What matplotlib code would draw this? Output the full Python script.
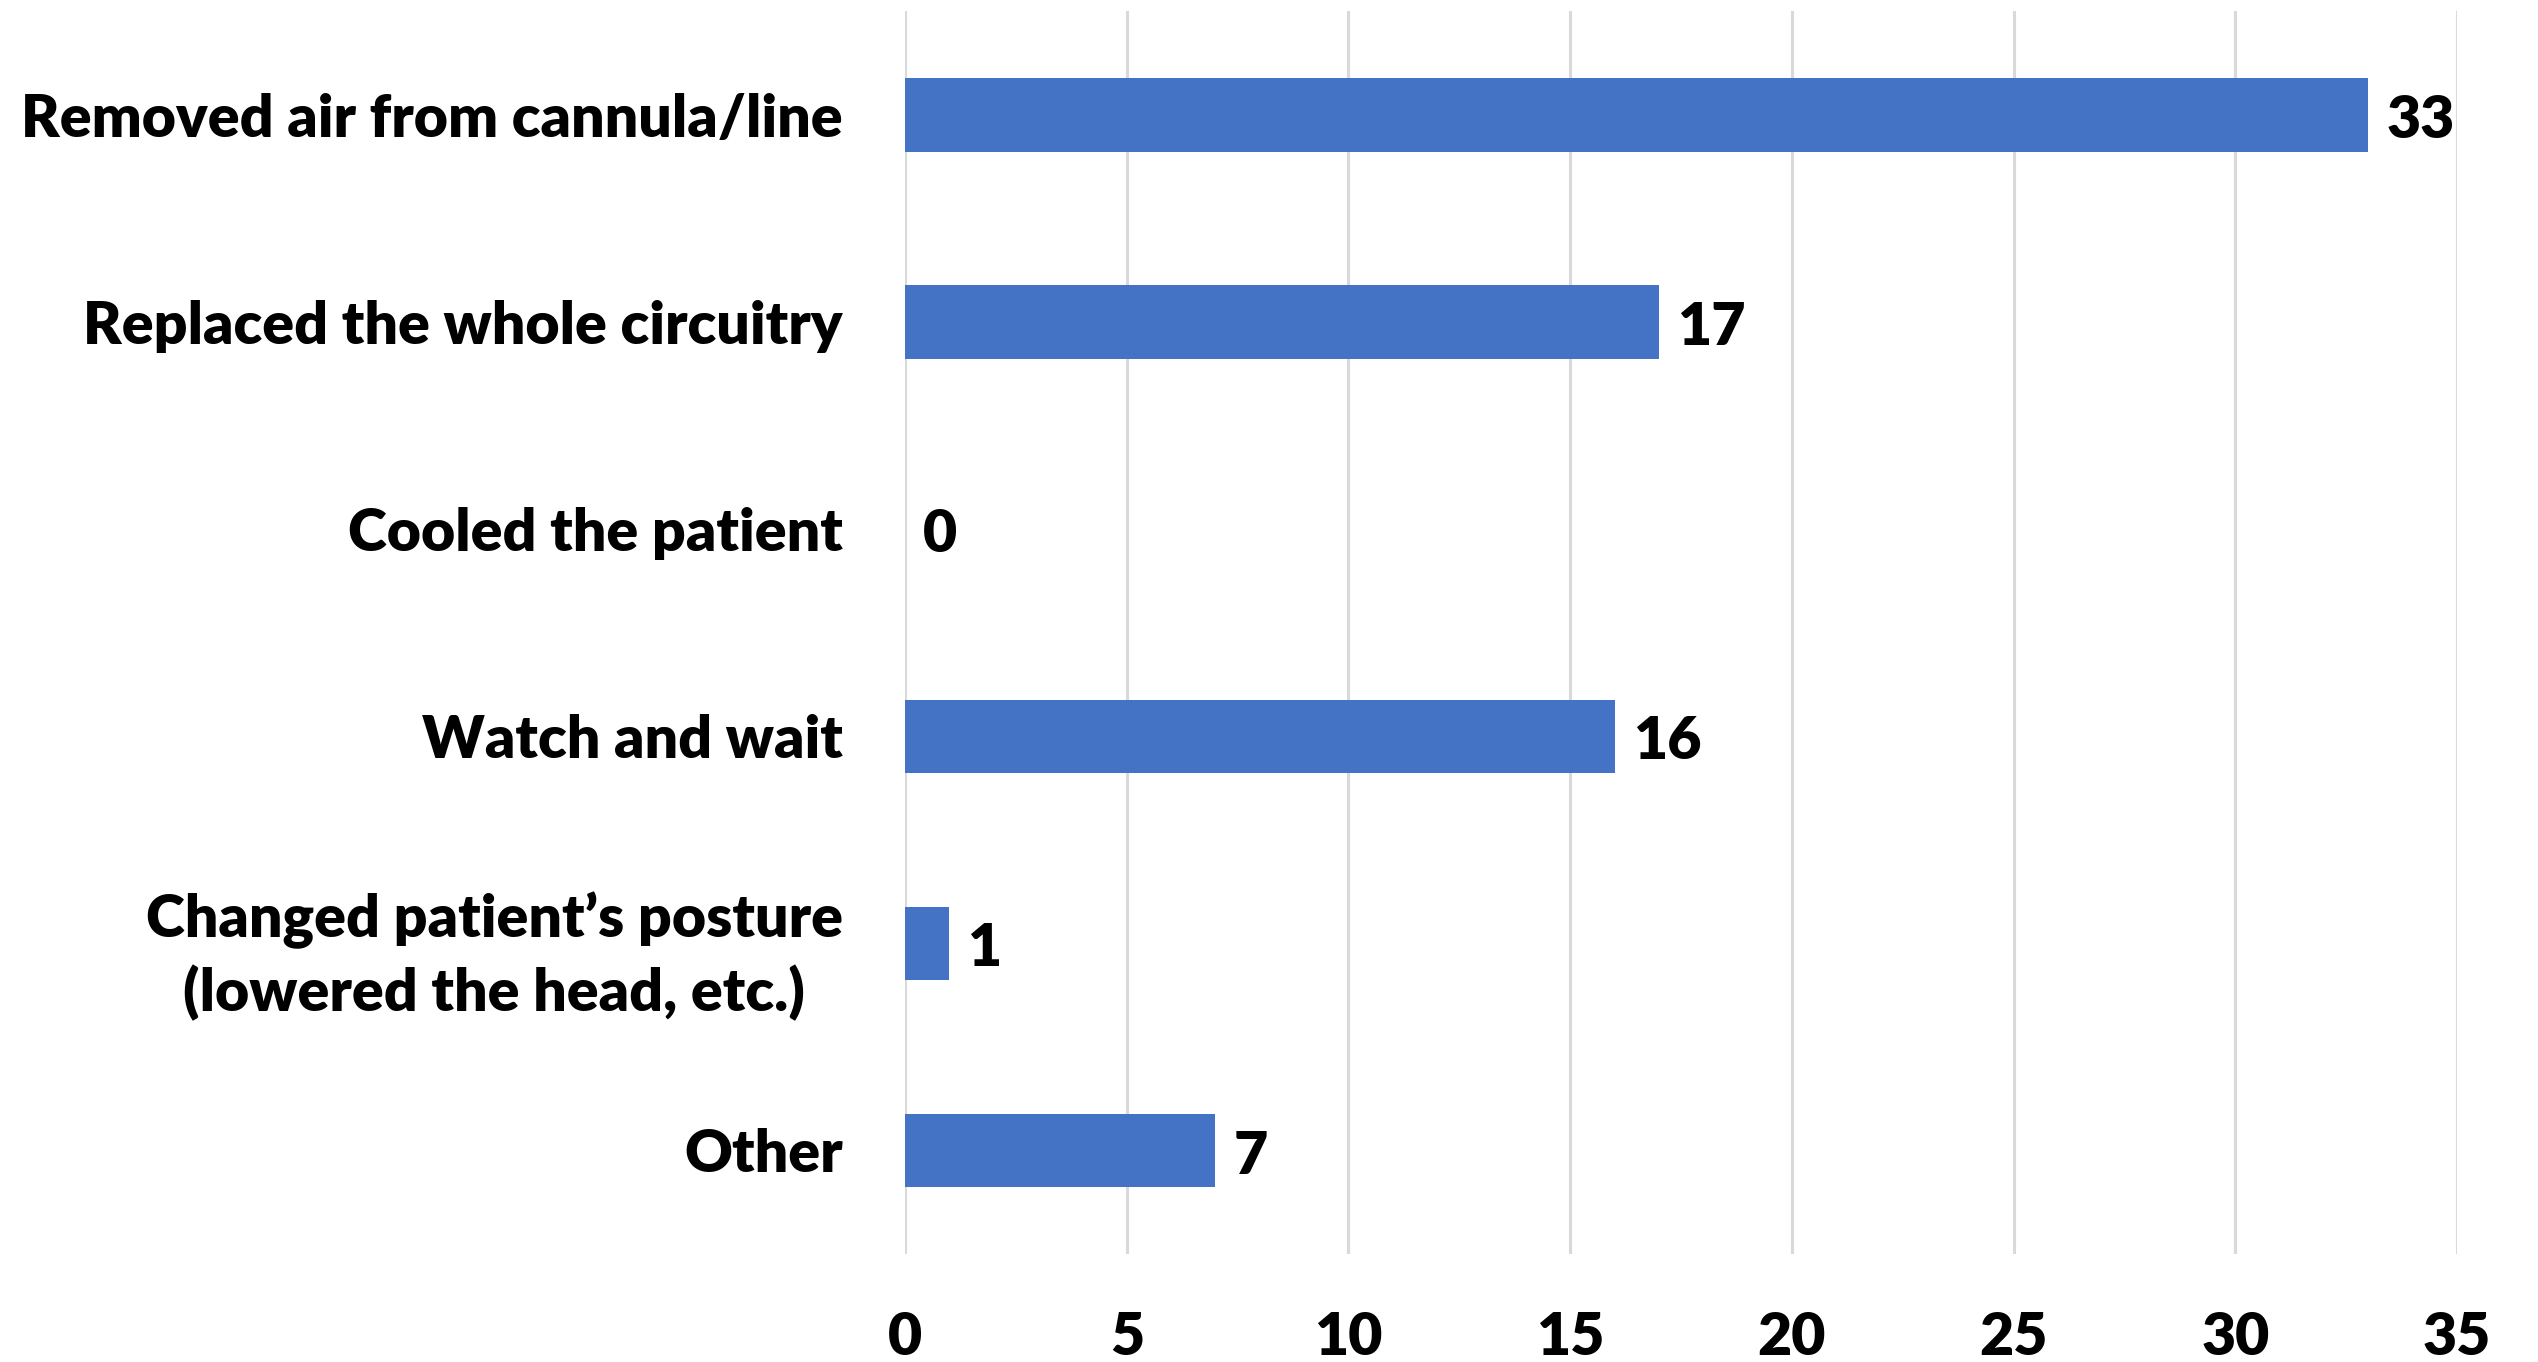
import matplotlib
matplotlib.use("Agg")
import matplotlib.pyplot as plt

categories = [
    "Removed air from cannula/line",
    "Replaced the whole circuitry",
    "Cooled the patient",
    "Watch and wait",
    "Changed patient\u2019s posture\n(lowered the head, etc.)",
    "Other",
]
counts = [33, 17, 0, 16, 1, 7]
x_ticks = [0, 5, 10, 15, 20, 25, 30, 35]

FONT_SIZE = 42.5
WEIGHT = "heavy"

plt.rcParams["font.family"] = ["Lato", "DejaVu Sans"]

fig = plt.figure(figsize=(25.38, 13.62), dpi=100)
ax = fig.add_axes([0.3566, 0.0793, 0.6115, 0.9123])

positions = list(range(len(categories)))
ax.barh(positions, counts, height=0.355, color="#4472C4", zorder=3)

# value labels just past the end of each bar
for pos, val in zip(positions, counts):
    ax.annotate(str(val), xy=(val, pos), xytext=(13, -4),
                textcoords="offset points", ha="left", va="center",
                fontsize=FONT_SIZE, fontweight=WEIGHT, color="black")

ax.set_ylim(len(categories) - 0.5, -0.5)
ax.set_xlim(0, 35)
ax.set_xticks(x_ticks)
ax.set_xticklabels([str(t) for t in x_ticks], fontsize=FONT_SIZE,
                   fontweight=WEIGHT)
ax.set_yticks(positions)
ax.set_yticklabels(categories, fontsize=FONT_SIZE, fontweight=WEIGHT,
                   multialignment="center", linespacing=1.34)

ax.grid(axis="x", color="#D9D9D9", linewidth=2.2, zorder=0)
ax.tick_params(axis="x", length=0, pad=41)
ax.tick_params(axis="y", length=0, pad=45)
for side in ["top", "right", "bottom", "left"]:
    ax.spines[side].set_visible(False)

fig.savefig("out.png", dpi=100, facecolor="white")
